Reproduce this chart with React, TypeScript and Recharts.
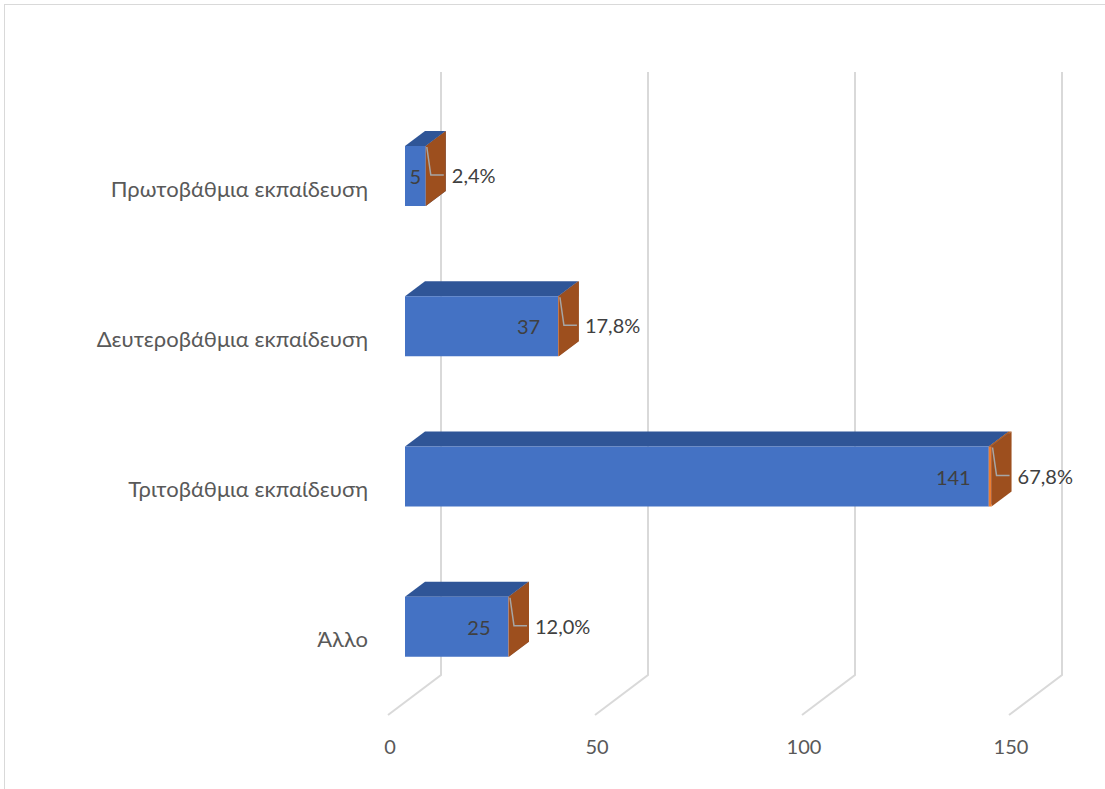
import React from "react";
import { BarChart, Bar, XAxis, YAxis, CartesianGrid, LabelList } from "recharts";

// Education level of respondents: counts and share of the total
const categories = [
  "Πρωτοβάθμια εκπαίδευση",
  "Δευτεροβάθμια εκπαίδευση",
  "Τριτοβάθμια εκπαίδευση",
  "Άλλο",
];
const counts = [5, 37, 141, 25];
const sharesPct = [2.4, 17.8, 67.8, 12.0];
const xTicks = [0, 50, 100, 150];

const data = categories.map((name, i) => ({
  name,
  count: counts[i],
  share: sharesPct[i] / 100,
  sharePct: sharesPct[i],
}));

// 3D extrusion offsets
const DX = 20;
const DY = -15;
const FONT = "Lato, 'Open Sans', 'DejaVu Sans', sans-serif";

const poly = (pts: number[][]) => pts.map((p) => p.join(",")).join(" ");

const BlueBox = (props: any) => {
  const { x, y, width, height } = props;
  return (
    <g>
      <polygon
        points={poly([
          [x, y],
          [x + DX, y + DY],
          [x + width + DX, y + DY],
          [x + width, y],
        ])}
        fill="#2F5597"
      />
      <polygon
        points={poly([
          [x + width, y],
          [x + width + DX, y + DY],
          [x + width + DX, y + height + DY],
          [x + width, y + height],
        ])}
        fill="#2B4E8C"
      />
      <rect x={x} y={y} width={width} height={height} fill="#4472C4" />
    </g>
  );
};

const OrangeBox = (props: any) => {
  const { x, y, width, height } = props;
  return (
    <g>
      <polygon
        points={poly([
          [x, y],
          [x + DX, y + DY],
          [x + width + DX, y + DY],
          [x + width, y],
        ])}
        fill="#B35E22"
      />
      <polygon
        points={poly([
          [x + width, y],
          [x + width + DX, y + DY],
          [x + width + DX, y + height + DY],
          [x + width, y + height],
        ])}
        fill="#9D4F1E"
      />
      <rect x={x} y={y} width={width} height={height} fill="#ED7D31" />
    </g>
  );
};

const CountLabel = (props: any) => {
  const { x, y, width, height, value } = props;
  const cy = y + height / 2;
  const fits = width > 40;
  return (
    <text
      x={fits ? x + width - 18 : x + width / 2}
      y={cy}
      textAnchor={fits ? "end" : "middle"}
      dominantBaseline="central"
      fontFamily={FONT}
      fontSize={20}
      fill="#404040"
    >
      {value}
    </text>
  );
};

const ShareLabel = (props: any) => {
  const { x, y, width, height, index } = props;
  const end = x + width;
  const cy = y + height / 2 - 1;
  const tx = end + 26;
  return (
    <g>
      <path
        d={`M${end + 1},${y + 1} L${end + 5},${cy} L${tx - 8},${cy}`}
        fill="none"
        stroke="#A6A6A6"
        strokeWidth={1.5}
      />
      <text
        x={tx}
        y={cy}
        textAnchor="start"
        dominantBaseline="central"
        fontFamily={FONT}
        fontSize={20}
        fill="#404040"
      >
        {sharesPct[index].toFixed(1).replace(".", ",") + "%"}
      </text>
    </g>
  );
};

// Back-wall gridline with its floor segment
const WallLine = (props: any) => {
  const { x1 } = props;
  return (
    <path
      key={props.key}
      d={`M${x1 + 36},72 L${x1 + 36},675 L${x1 - 17},715`}
      fill="none"
      stroke="#D9D9D9"
      strokeWidth={2}
    />
  );
};

const XTick = (props: any) => {
  const { x, y, payload } = props;
  return (
    <text
      x={x - 15}
      y={y}
      textAnchor="middle"
      dominantBaseline="central"
      fontFamily={FONT}
      fontSize={20}
      fill="#595959"
    >
      {payload.value}
    </text>
  );
};

const YTick = (props: any) => {
  const { x, y, payload } = props;
  return (
    <text
      x={x}
      y={y + 12}
      textAnchor="end"
      dominantBaseline="central"
      fontFamily={FONT}
      fontSize={22}
      fill="#595959"
    >
      {payload.value}
    </text>
  );
};

export default function App() {
  return (
    <div
      style={{
        position: "absolute",
        left: 0,
        top: 0,
        width: 1105,
        height: 789,
        overflow: "hidden",
        background: "#ffffff",
      }}
    >
      <div
        style={{
          position: "absolute",
          left: 4,
          top: 4,
          width: 1300,
          height: 1000,
          border: "1.5px solid #D9D9D9",
        }}
      />
      <div style={{ position: "absolute", left: 0, top: 0 }}>
        <BarChart
          width={1105}
          height={789}
          data={data}
          layout="vertical"
          margin={{ top: 101, right: 79, bottom: 27, left: 8 }}
          barCategoryGap={0}
        >
          <CartesianGrid horizontal={false} vertical={WallLine} />
          <XAxis
            type="number"
            domain={[0, 150]}
            ticks={xTicks}
            axisLine={false}
            tickLine={false}
            tickSize={0}
            tickMargin={44}
            height={60}
            tick={<XTick />}
          />
          <YAxis
            type="category"
            dataKey="name"
            width={397}
            axisLine={false}
            tickLine={false}
            tickSize={0}
            tickMargin={37}
            tick={<YTick />}
          />
          <Bar
            dataKey="count"
            stackId="a"
            barSize={60}
            shape={<BlueBox />}
            isAnimationActive={false}
          >
            <LabelList dataKey="count" content={<CountLabel />} />
          </Bar>
          <Bar
            dataKey="share"
            stackId="a"
            barSize={60}
            shape={<OrangeBox />}
            isAnimationActive={false}
          >
            <LabelList dataKey="sharePct" content={<ShareLabel />} />
          </Bar>
        </BarChart>
      </div>
    </div>
  );
}
